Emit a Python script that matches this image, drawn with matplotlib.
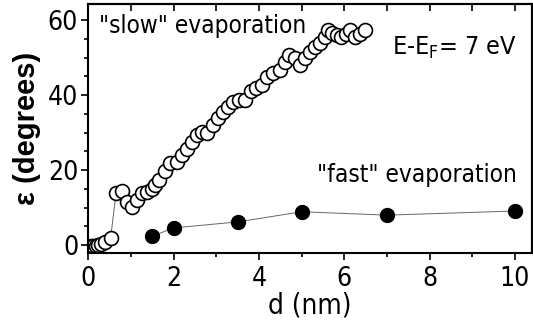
import matplotlib
matplotlib.use('Agg')
import matplotlib.pyplot as plt
from matplotlib.ticker import MultipleLocator

# "slow" evaporation (open circles)
slow_d = [0.07, 0.12, 0.17, 0.22, 0.30, 0.40, 0.52, 0.65, 0.78, 0.90,
          1.02, 1.13, 1.25, 1.37, 1.48, 1.57, 1.66, 1.80, 1.91, 2.07,
          2.19, 2.30, 2.42, 2.54, 2.66, 2.79, 2.93, 3.04, 3.16, 3.28,
          3.40, 3.54, 3.67, 3.80, 3.94, 4.08, 4.19, 4.33, 4.49, 4.61,
          4.71, 4.84, 4.95, 5.07, 5.19, 5.31, 5.43, 5.54, 5.62, 5.72,
          5.82, 5.93, 6.03, 6.13, 6.24, 6.36, 6.48]
slow_eps = [-0.3, -0.2, -0.3, 0.0, 0.2, 0.9, 1.8, 14.0, 14.5, 11.5,
            10.2, 12.0, 13.8, 14.2, 15.1, 16.0, 17.3, 19.8, 21.8, 22.2,
            24.0, 25.5, 27.5, 29.3, 30.2, 29.9, 32.0, 34.0, 35.5, 36.9,
            38.2, 38.8, 38.7, 41.1, 41.8, 42.7, 44.9, 45.8, 46.7, 48.9,
            50.7, 49.8, 48.0, 49.8, 51.5, 52.9, 53.8, 55.5, 57.3, 56.5,
            56.0, 55.5, 56.4, 57.3, 55.5, 56.4, 57.3]

# "fast" evaporation (filled circles)
fast_d = [1.5, 2.0, 3.5, 5.0, 7.0, 10.0]
fast_eps = [2.4, 4.6, 6.2, 8.9, 8.0, 9.1]

plt.rcParams['font.family'] = ['DejaVu Sans']
plt.rcParams['font.stretch'] = 'condensed'

fig = plt.figure(figsize=(5.33, 3.24), dpi=100)
ax = fig.add_axes([0.165, 0.219, 0.8325, 0.769])

ax.plot(slow_d, slow_eps, '-', color='#666666', lw=0.7, zorder=1)
ax.plot(slow_d, slow_eps, 'o', ms=10, mfc='white', mec='black', mew=1.2,
        ls='none', zorder=2)
ax.plot(fast_d, fast_eps, '-', color='#666666', lw=0.7, zorder=1)
ax.plot(fast_d, fast_eps, 'o', ms=10, mfc='black', mec='black',
        ls='none', zorder=2)

ax.set_xlim(-0.01, 10.39)
ax.set_ylim(-2.1, 64.3)

ax.xaxis.set_major_locator(MultipleLocator(2))
ax.xaxis.set_minor_locator(MultipleLocator(1))
ax.yaxis.set_major_locator(MultipleLocator(20))
ax.yaxis.set_minor_locator(MultipleLocator(5))
ax.tick_params(which='both', direction='out', labelsize=19, width=1.2, pad=2)
ax.tick_params(axis='x', which='both', pad=4)
ax.tick_params(which='major', length=5)
ax.tick_params(which='minor', length=3)

top = ax.secondary_xaxis('top')
top.xaxis.set_major_locator(MultipleLocator(2))
top.xaxis.set_minor_locator(MultipleLocator(1))
top.tick_params(which='both', direction='in', labeltop=False, width=1.2)
top.tick_params(which='major', length=5)
top.tick_params(which='minor', length=5)

right = ax.secondary_yaxis('right')
right.yaxis.set_major_locator(MultipleLocator(20))
right.tick_params(which='major', direction='out', labelright=False,
                  length=5, width=1.2)

for sp in ax.spines.values():
    sp.set_linewidth(1.5)
top.spines['top'].set_linewidth(1.5)
right.spines['right'].set_linewidth(1.5)

ax.set_xlabel('d (nm)', fontsize=20, labelpad=0)
ax.set_ylabel('\u03b5 (degrees)', fontsize=21, fontweight='bold',
              family=['Liberation Sans', 'DejaVu Sans'], fontstretch='normal',
              labelpad=5)

ax.text(0.25, 58.5, '"slow" evaporation', fontsize=17.5, va='center', ha='left')
ax.text(10.05, 52.6, 'E-E$_\\mathregular{F}$= 7 eV', fontsize=18,
        va='center', ha='right')
ax.text(10.05, 18.6, '"fast" evaporation', fontsize=17.5, va='center', ha='right')

fig.savefig('out.png', dpi=100)
